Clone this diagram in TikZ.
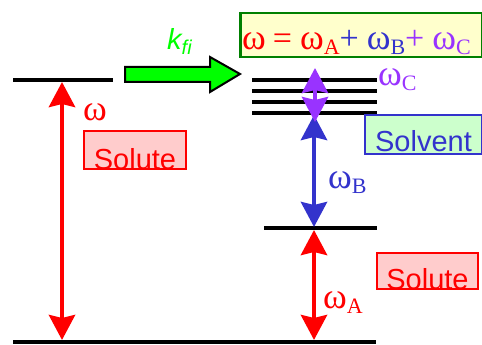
\documentclass[tikz,border=0pt]{standalone}
\usepackage{fontspec}
\setmainfont{Liberation Sans}
\newfontfamily\omegafont{Liberation Serif}
\usetikzlibrary{arrows.meta}

\definecolor{soluteRed}{RGB}{255,0,0}
\definecolor{solventBlue}{RGB}{51,51,204}
\definecolor{bathPurple}{RGB}{153,51,255}
\definecolor{rateGreen}{RGB}{0,255,0}
\definecolor{sumGreen}{RGB}{0,128,0}
\definecolor{sumYellow}{RGB}{255,255,204}

\newcommand{\om}{{\omegafont\fontsize{36}{36}\selectfont ω}}
\newcommand{\omsub}[1]{\raisebox{-5pt}{\omegafont\fontsize{22}{22}\selectfont #1}}
\newcommand{\opsym}[1]{{\omegafont\fontsize{34}{34}\selectfont #1}}

\tikzset{
  nivel/.style={line width=4pt},
  doble/.style={line width=4.5pt,
    {Stealth[length=25pt,width=26pt,inset=3pt]}-{Stealth[length=25pt,width=26pt,inset=3pt]}},
  caja/.style={draw,line width=2pt,inner sep=0pt,text depth=0pt,
    font=\fontsize{29}{29}\selectfont},
  etiqueta/.style={inner sep=0pt,anchor=base west}
}

\begin{document}
\begin{tikzpicture}[x=1pt,y=-1pt]
    \useasboundingbox (0,0) rectangle (482,345);

    % niveles del soluto
    \draw[nivel] (13,80) -- (113,80);
    \draw[nivel] (13,342) -- (376,342);
    \draw[nivel] (264,228) -- (377,228);
    \coordinate (gL) at (62,340);
    \coordinate (eL) at (62,82);
    \coordinate (gR) at (314,340);
    \coordinate (mR) at (314,230);

    % niveles del solvente
    \foreach \y in {80,91,102,113}{
      \draw[nivel] (252,\y) -- (377,\y);
    }
    \coordinate (sB) at (314,115);
    \coordinate (mB) at (314,227);
    \coordinate (cTop) at (315,68);
    \coordinate (cBot) at (315,122);

    % flechas de energia
    \draw[doble,soluteRed] (gL) -- (eL);
    \draw[doble,soluteRed] (gR) -- (mR);
    \draw[doble,solventBlue] (sB) -- (mB);
    \draw[doble,bathPurple] (cTop) -- (cBot);

    % etiquetas
    \node[etiqueta,text=soluteRed] (wL) at (83,120) {\om};
    \node[etiqueta,text=soluteRed] (wA) at (323,308) {\om\omsub{A}};
    \node[etiqueta,text=solventBlue] (wB) at (328,188) {\om\omsub{B}};
    \node[etiqueta,text=bathPurple] (wC) at (378,85) {\om\omsub{C}};

    % cajas
    \node[caja,draw=soluteRed,fill=soluteRed!20,text=soluteRed,
      minimum width=102pt,text height=38pt,anchor=north west] (soluteL) at (83,130) {Solute};
    \node[caja,draw=soluteRed,fill=soluteRed!20,text=soluteRed,
      minimum width=101pt,text height=36pt,anchor=north west] (soluteR) at (376,252) {Solute};
    \node[caja,draw=solventBlue,fill=rateGreen!20,text=solventBlue,
      minimum width=117pt,text height=36pt,text depth=3pt,anchor=north west] (solvent) at (364,114) {Solvent};

    % transferencia
    \draw[line width=2pt,fill=rateGreen] (125,67) -- (210,67) -- (210,57) -- (240,74)
      -- (210,92) -- (210,82) -- (125,82) -- cycle;
    \node[etiqueta,text=rateGreen] (kfi) at (167,50)
      {\fontsize{29}{29}\selectfont\itshape k\raisebox{-5pt}{\fontsize{20}{20}\selectfont fi}};

    % suma de frecuencias
    \node[draw=sumGreen,fill=sumYellow,line width=2.5pt,inner sep=0pt,
      minimum width=242pt,minimum height=44pt,anchor=north west] (suma) at (239,12) {};
    \node[etiqueta] (formula) at (242,50)
      {\color{soluteRed}\om\hspace{7pt}\opsym{=}\hspace{8pt}\om\omsub{A}%
       \color{solventBlue}\opsym{+}\hspace{8pt}\om\omsub{B}%
       \color{bathPurple}\opsym{+}\hspace{8pt}\om\omsub{C}};
\end{tikzpicture}
\end{document}
